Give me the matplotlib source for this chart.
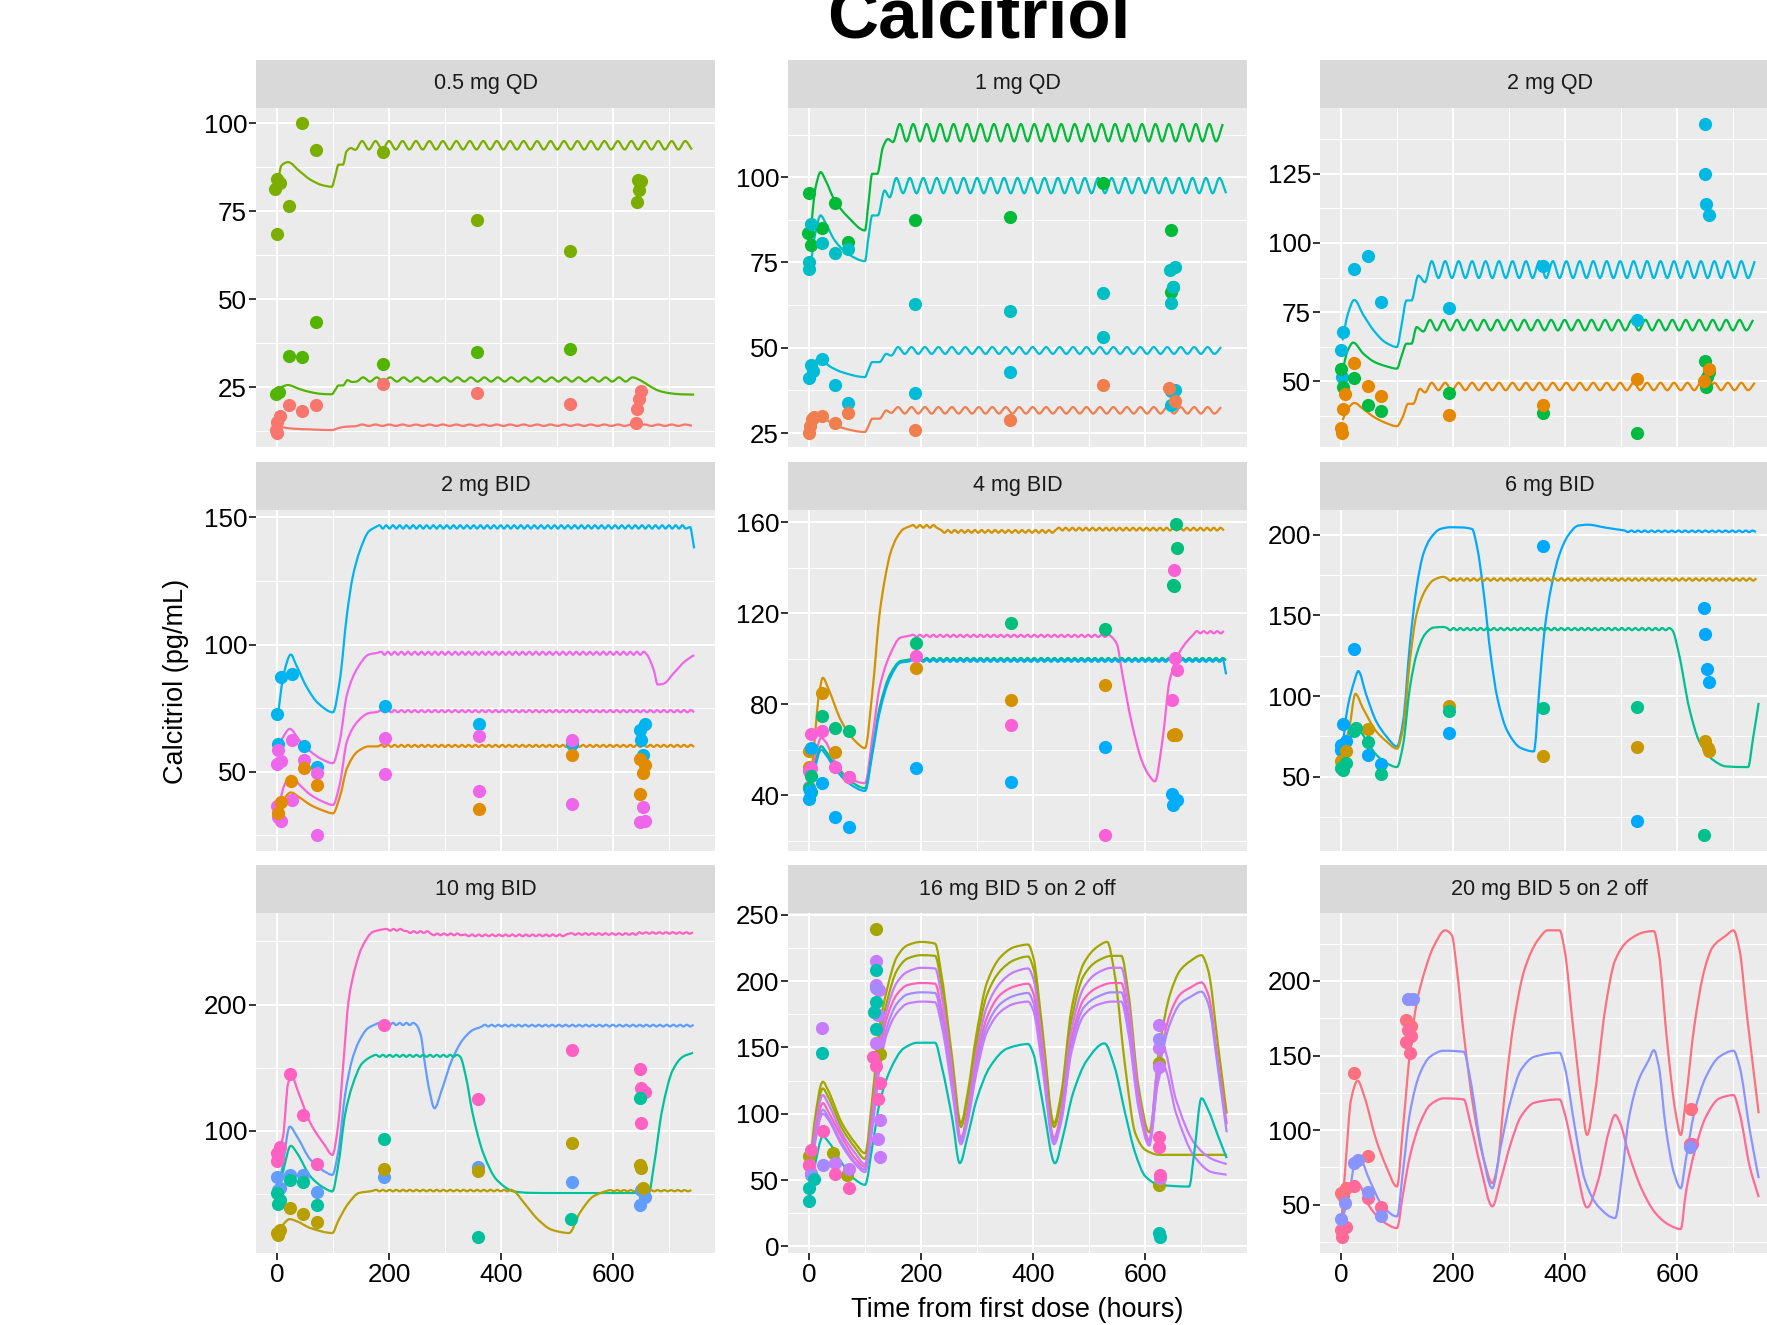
import numpy as np
import matplotlib.pyplot as plt
from matplotlib.path import Path
from matplotlib.patches import PathPatch

plt.rcParams['font.family'] = ['Liberation Sans', 'DejaVu Sans']


def ss(t0, t1, hi, lo, step):
    # steady-state dosing ripple: alternating peak / trough
    t = np.arange(t0, t1 + 0.01, step)
    return list(t), [hi if i % 2 == 0 else lo for i in range(len(t))]


def trace(*parts):
    ts, vs = [], []
    for t, v in parts:
        ts += list(t)
        vs += list(v)
    return ts, vs


# ---------------- 0.5 mg QD ----------------
qd05_olive = trace(([3, 8, 20, 40, 60, 80, 98, 104, 110, 118, 124, 132, 140],
                    [84.5, 88, 89, 86.5, 84, 82.5, 82, 85, 88.3, 88.3, 92, 93, 92.5]),
                   ss(152, 744, 95.0, 92.6, 12))
qd05_green = trace(([3, 8, 20, 40, 60, 80, 98, 104, 110, 118, 126, 134, 142],
                    [23.1, 25.0, 25.6, 24.5, 23.6, 23.1, 23.0, 24.2, 25.5, 25.5, 27.0, 26.5, 26.6]),
                   ss(154, 634, 27.8, 26.6, 12),
                   ([650, 665, 681, 700, 720, 744], [26.8, 25.3, 24.0, 23.3, 23.0, 22.9]))
qd05_red = trace(([3, 10, 30, 60, 98, 110, 125, 140],
                  [13.8, 13.6, 13.2, 13.0, 12.8, 13.4, 13.8, 13.9]),
                 ss(152, 744, 14.4, 14.0, 12))
qd05_olive_pts = ([-3, 0, 5, 0, 21, 45, 69, 190, 356, 523, 644, 650, 645, 643],
                  [81.5, 84.2, 83.0, 68.5, 76.4, 100, 92.4, 92.0, 72.5, 63.7, 83.9, 83.7, 81.1, 77.7])
qd05_green_pts = ([-2, 3, 21, 45, 69, 189, 356, 523],
                  [23.0, 23.5, 33.8, 33.5, 43.5, 31.6, 34.9, 35.9])
qd05_red_pts = ([-2, 0, 1, 5, 21, 45, 69, 189, 356, 523, 641, 643, 646, 649],
                [12.7, 12.0, 15.1, 16.8, 20.0, 18.2, 20.0, 26.0, 23.4, 20.1, 14.8, 18.9, 21.7, 23.9])

# ---------------- 1 mg QD ----------------
qd1_green = trace(([3, 12, 21, 30, 46, 70, 100, 106, 113, 122, 132, 141, 150],
                   [83.9, 97, 101.5, 99, 93.2, 88.3, 84.4, 92, 101, 101, 108.8, 111.2, 110.3]),
                  ss(162, 744, 115.6, 110.5, 12))
qd1_teal = trace(([3, 12, 21, 30, 46, 70, 100, 106, 113, 123, 135, 144],
                  [74.1, 84, 88.8, 86.5, 81.5, 77.5, 75.4, 82, 88.8, 88.8, 96.1, 94.1]),
                 ss(156, 744, 99.8, 95.3, 12))
qd1_cyan = trace(([3, 10, 22, 35, 60, 100, 106, 113, 126, 138, 147],
                  [44.3, 46, 46.8, 44.8, 42.8, 41.4, 43.5, 45.8, 45.8, 48.2, 47.7]),
                 ss(159, 744, 50.2, 48.2, 12))
qd1_orange = trace(([3, 10, 21, 35, 60, 100, 106, 113, 126, 138, 147],
                    [28.7, 29.5, 30.2, 28.5, 26.5, 25.3, 27, 29.2, 29.2, 31.6, 30.9]),
                   ss(159, 744, 32.6, 30.7, 12))
qd1_green_pts = ([0, -2, 3, 23, 47, 70, 190, 358, 525, 645, 649, 646],
                 [95.3, 83.6, 80.0, 85.2, 92.4, 81.0, 87.5, 88.3, 98.2, 84.4, 67.8, 66.3])
qd1_teal_pts = ([4, 0, 1, 24, 47, 70, 190, 358, 525, 525, 644, 653, 649, 646],
                [86.3, 75.1, 73.1, 80.7, 77.8, 79.0, 62.7, 60.7, 66.0, 53.3, 72.7, 73.8, 67.8, 63.2])
qd1_cyan_pts = ([3, 0, 7, 23, 47, 70, 190, 358, 646, 653, 646],
                [44.8, 41.2, 43.2, 46.8, 39.0, 33.8, 36.7, 42.9, 37.3, 37.7, 33.1])
qd1_orange_pts = ([0, 2, 5, 9, 24, 47, 70, 190, 358, 525, 643, 653],
                  [25.0, 27.2, 29.2, 29.7, 29.9, 28.0, 30.9, 25.8, 28.9, 39.2, 38.3, 34.4])

# ---------------- 2 mg QD ----------------
qd2_blue = trace(([3, 12, 24, 40, 60, 80, 100, 108, 117, 126, 138, 150],
                  [64.8, 74, 79.4, 74, 68, 64, 62.4, 70, 79.2, 79.2, 88.2, 85.8]),
                 ss(162, 744, 93.4, 87.3, 12))
qd2_green = trace(([3, 12, 22, 40, 60, 80, 100, 108, 117, 126, 135, 147],
                   [54, 61, 64.0, 60, 57, 55.5, 54.6, 59, 63.6, 63.6, 69.6, 68.0]),
                  ss(159, 744, 72.2, 68.4, 12))
qd2_orange = trace(([3, 12, 24, 40, 60, 80, 100, 110, 120, 129, 141, 150],
                    [36, 40, 42.2, 40, 37, 35, 33.8, 37, 41.9, 41.9, 47.3, 46.0]),
                   ss(162, 744, 49.5, 46.8, 12))
qd2_blue_pts = ([649, 650, 651, 656, 360, 528, 192, 71, 48, 24, 3, 0, 2],
                [142.9, 125.0, 113.9, 110.1, 91.8, 72.0, 76.6, 78.8, 95.2, 90.6, 68.0, 61.5, 51.6])
qd2_green_pts = ([0, 3, 24, 48, 71, 192, 360, 528, 649, 652, 656, 651],
                 [54.3, 47.9, 51.2, 41.6, 39.2, 45.9, 38.4, 31.5, 57.3, 51.6, 53.4, 47.9])
qd2_orange_pts = ([0, 2, 3, 8, 24, 48, 71, 192, 360, 528, 656, 648],
                  [33.2, 31.5, 40.2, 45.6, 56.7, 48.3, 44.6, 38.0, 41.6, 50.7, 54.3, 50.0])

# ---------------- 2 mg BID ----------------
bid2_cyan = trace(([2, 12, 25, 34, 54, 73, 100, 112, 125, 135, 148, 164, 177],
                   [72.5, 88.2, 96.1, 92.2, 83.0, 77.1, 73.4, 85.6, 111.9, 126.3, 136.9, 144.5, 146.3]),
                  ss(183, 731, 146.9, 145.6, 6),
                  ([737, 741, 744], [146.2, 142, 137.8]))
bid2_mag = trace(([2, 12, 23, 40, 60, 80, 100, 112, 125, 144, 164, 180],
                  [59, 64, 66.9, 62.5, 58, 55, 53.4, 62, 80.4, 90.9, 96.1, 96.8]),
                 ss(186, 660, 97.2, 96.0, 6),
                 ([672, 679, 689, 708, 728, 744], [90, 84.3, 84.6, 88.9, 93.5, 95.9]))
bid2_mag2 = trace(([2, 12, 25, 40, 60, 80, 100, 112, 125, 144, 164, 180],
                   [33.7, 44, 48.4, 45, 41, 38.5, 37.0, 45, 62.0, 69.8, 73.1, 73.6]),
                  ss(186, 744, 74.3, 73.4, 6))
bid2_orange = trace(([2, 12, 25, 40, 60, 80, 100, 112, 125, 144, 164, 180],
                     [33.0, 39, 41.9, 40, 37, 35, 33.7, 40, 51.4, 58.0, 60.0, 60.0]),
                    ss(186, 744, 60.6, 59.8, 6))
bid2_cyan_pts = ([0, 8, 27, 2, 49, 72, 193, 360, 527, 648, 656, 650, 652],
                 [72.6, 87.2, 88.6, 60.9, 60.0, 52.1, 75.8, 68.8, 61.0, 66.6, 68.8, 62.6, 56.7])
bid2_mag_pts = ([0, 2, 0, 7, 27, 49, 72, 193, 193, 360, 360, 527, 527, 652, 648, 656, 27, 72, 2, 8],
                [36.7, 58.7, 53.2, 54.3, 62.6, 54.7, 49.7, 63.3, 49.2, 64.2, 42.5, 62.6, 37.3, 36.1,
                 30.2, 30.8, 39.0, 25.2, 32.4, 30.8])
bid2_orange_pts = ([2, 7, 25, 49, 72, 360, 527, 648, 656, 652, 648],
                   [33.7, 38.3, 46.5, 51.7, 44.9, 35.4, 56.7, 55.1, 52.5, 49.5, 41.2])

# ---------------- 4 mg BID ----------------
bid4_gold = trace(([2, 9, 18, 25, 34, 58, 83, 100, 114, 126, 135, 145, 157, 169, 180],
                   [43.2, 60.8, 84.3, 91.7, 87.3, 72.6, 63.8, 60.8, 87.3, 119.6, 134.3, 146.1, 153.4, 157.1, 158.2]),
                  ss(186, 230, 158.8, 157.6, 6), ss(236, 440, 156.6, 155.4, 6),
                  ss(446, 744, 157.6, 156.4, 6))
bid4_pink = trace(([2, 10, 22, 30, 46, 71, 100, 114, 126, 145, 163, 180],
                   [43.2, 55, 65.3, 63.5, 55.0, 47.6, 45.4, 66.7, 87.3, 102, 109.3, 110.2]),
                  ss(186, 540, 110.6, 109.6, 6),
                  ([550, 557, 575, 594, 606, 617, 631, 643, 662, 686],
                   [106, 96.1, 72.6, 55.0, 49, 46.2, 65.3, 90.2, 103.4, 110.8]),
                  ss(692, 744, 112.2, 111.2, 6))
bid4_green = trace(([2, 10, 22, 30, 46, 71, 100, 114, 126, 145, 163, 180],
                    [41.8, 52, 61.6, 59.5, 53.5, 46.9, 43.2, 60.8, 78.5, 93.2, 99.0, 99.8]),
                   ss(186, 744, 100.4, 99.4, 6))
bid4_blue = trace(([2, 10, 22, 30, 46, 71, 100, 114, 126, 145, 163, 180],
                   [40.4, 51, 60.1, 58, 52.0, 45.4, 42.0, 59.4, 76.3, 91.7, 98.3, 99.0]),
                  ss(186, 738, 99.7, 98.7, 6),
                  ([744], [93.2]))
bid4_green_pts = ([654, 657, 649, 651, 360, 528, 191, 23, 47, 71, 3, 0, 3],
                  [159.3, 148.7, 132.4, 131.8, 115.9, 113.3, 106.8, 74.8, 69.7, 68.5, 48.4, 43.2, 41.4])
bid4_pink_pts = ([651, 652, 657, 648, 360, 528, 191, 4, 23, 47, 71, 0, 3, 0],
                 [139.0, 100.2, 95.1, 82.1, 70.8, 22.6, 101.2, 67.2, 68.2, 52.5, 47.9, 50.6, 52.0, 43.6])
bid4_gold_pts = ([23, 47, 71, 0, 0, 191, 360, 528, 649, 655, 652],
                 [84.8, 59.1, 47.9, 59.7, 52.5, 95.8, 82.1, 88.5, 66.7, 66.4, 67.0])
bid4_blue_pts = ([3, 0, 2, 23, 47, 71, 191, 360, 528, 648, 657, 649],
                 [60.8, 38.5, 41.8, 45.4, 30.7, 26.0, 52.0, 45.9, 61.1, 40.6, 38.1, 35.6])

# ---------------- 6 mg BID ----------------
bid6_blue = trace(([2, 12, 24, 31, 45, 63, 81, 100, 111, 123, 135, 147, 159, 177, 195, 215, 234, 243,
                    255, 267, 279, 297, 321, 344, 354, 363, 375, 390, 405, 423, 441, 470, 500],
                   [65.7, 92.7, 109.2, 115.5, 101, 84.4, 75.1, 68.8, 84.4, 132.0, 167.3, 188.0, 197.3,
                    203.5, 204.6, 204.5, 203.5, 192.1, 163.1, 125.8, 98.9, 78.2, 67.8, 65.7, 105.1,
                    140.3, 167.3, 188.0, 199.4, 205.6, 206.2, 204.5, 202.9]),
                  ss(506, 744, 202.6, 201.6, 6))
bid6_gold = trace(([2, 15, 26, 39, 63, 81, 100, 111, 123, 135, 150, 165, 183],
                   [63.7, 80.2, 101.4, 92.7, 78.2, 72.0, 67.4, 80.2, 121.7, 150.7, 165.2, 171.8, 173.9]),
                  ss(189, 744, 173.0, 171.5, 6))
bid6_green = trace(([2, 15, 26, 39, 63, 81, 100, 111, 123, 135, 150, 165, 183],
                    [56.4, 72.0, 82.3, 76.1, 63.7, 58.5, 56.0, 69.9, 105.1, 125.8, 138.3, 142.4, 142.8]),
                   ss(189, 591, 142.2, 140.8, 6),
                   ([603, 621, 639, 663, 687, 726, 735, 745],
                    [125.8, 92.7, 72.0, 60.6, 56.4, 56.0, 74.0, 95.8]))
bid6_blue_pts = ([24, 3, 0, 0, 9, 48, 71, 192, 360, 528, 648, 650, 652, 656],
                 [128.9, 82.7, 69.9, 66.8, 72.0, 63.2, 58.1, 76.9, 192.7, 22.8, 154.8, 138.7, 116.9, 108.8])
bid6_gold_pts = ([0, 10, 48, 192, 360, 528, 650, 654, 657],
                 [59.5, 65.7, 79.8, 93.7, 62.6, 68.4, 72.4, 67.8, 65.7])
bid6_green_pts = ([0, 3, 9, 24, 27, 48, 71, 192, 360, 528, 648],
                  [55.4, 54.3, 58.5, 78.6, 80.2, 71.3, 51.6, 90.6, 92.3, 93.1, 13.9])

# ---------------- 10 mg BID ----------------
bid10_pink = trace(([2, 11, 20, 26, 39, 60, 85, 99, 109, 119, 128, 140, 152, 171, 190],
                    [82.4, 95.5, 137.6, 143.4, 129.7, 106.0, 88.9, 81.0, 103.4, 156.0, 203.4, 229.7,
                     245.5, 257.4, 259.5]),
                   ss(196, 226, 259.8, 258.4, 6), ss(232, 268, 258.0, 256.6, 6),
                   ss(274, 330, 256.2, 254.8, 6), ss(336, 520, 255.4, 254.0, 6),
                   ss(526, 640, 256.4, 255.1, 6), ss(646, 744, 257.2, 256.0, 6))
bid10_blue = trace(([2, 11, 23, 36, 60, 85, 99, 109, 122, 134, 146, 162, 177],
                    [50.8, 74.5, 103.4, 95.5, 77.1, 67.9, 65.2, 82.4, 129.7, 156.0, 170.5, 181.1, 184.5]),
                   ss(183, 249, 185.5, 183.7, 6),
                   ([257, 263, 272, 281, 294, 312, 331, 349, 365],
                    [175, 156.0, 132, 117.9, 132.4, 156.0, 171.8, 179.7, 182.5]),
                   ss(371, 744, 184.0, 182.6, 6))
bid10_green = trace(([2, 11, 25, 36, 60, 85, 99, 109, 122, 134, 152, 171],
                     [50.8, 67.9, 88.2, 82.4, 63.9, 54.7, 52.1, 71.8, 113.9, 135.0, 153.4, 159.3]),
                    ss(177, 327, 160.2, 158.6, 6),
                    ([337, 349, 368, 392, 423, 450, 503, 663, 672, 687, 706, 724, 742],
                     [142.9, 113.9, 82.4, 61.3, 52.1, 51.0, 50.8, 50.8, 71.8, 116.6, 148.2, 158.7, 161.8]))
bid10_olive = trace(([2, 11, 23, 36, 60, 99, 109, 128, 146, 171],
                     [19.2, 25.8, 30.2, 28.4, 23.1, 19.2, 28.4, 42.9, 50.8, 52.6]),
                    ss(177, 423, 53.4, 52.2, 6),
                    ([441, 466, 490, 521, 540, 564, 589], [42.9, 29.7, 21.8, 19.2, 35.0, 48.1, 52.6]),
                    ss(595, 744, 53.2, 52.2, 6))
bid10_pink_pts = ([23, 47, 71, 2, 5, 0, 0, 191, 359, 527, 647, 650, 656, 649],
                  [144.7, 112.6, 73.7, 78.4, 87.6, 82.4, 75.8, 183.7, 125.0, 164.0, 148.7, 134.2, 131.0, 106.6])
bid10_blue_pts = ([0, 2, 6, 23, 47, 71, 191, 359, 527, 650, 656, 647],
                  [63.4, 53.4, 54.7, 65.2, 65.2, 51.6, 63.4, 71.8, 59.2, 53.4, 47.6, 41.6])
bid10_green_pts = ([0, 2, 5, 23, 47, 71, 191, 359, 525, 647],
                   [50.8, 42.3, 45.5, 61.3, 59.2, 41.0, 93.7, 15.8, 30.2, 126.3])
bid10_olive_pts = ([0, 5, 2, 23, 47, 71, 191, 359, 527, 647, 650, 653],
                   [19.2, 21.8, 17.4, 38.9, 34.4, 27.9, 70.0, 68.4, 90.8, 73.1, 70.5, 55.2])

# ---------------- 16 mg BID 5 on 2 off ----------------
t16 = [2, 9, 25, 34, 59, 83, 100, 114, 126, 139, 157, 176, 200, 225, 237, 256, 271, 283, 299, 317,
       342, 367, 391, 400, 416, 437, 450, 468, 490, 514, 540, 557, 570, 588, 607, 625, 644, 662, 680,
       700, 712, 730, 745]
b16_olive2_v = [55, 86, 119, 113, 89, 74, 66, 108, 156, 184, 208, 217, 219.5, 219, 196, 136, 90, 110,
                153, 189, 208, 216, 218.5, 210, 160, 90, 110, 170, 204, 215, 219, 219, 190, 120, 86,
                150, 190, 208, 215, 219.5, 208, 150, 100]
b16_pink_v = [52, 78, 108, 102, 82, 66, 60, 100, 145, 172, 190, 197, 198.5, 198, 178, 125, 82, 100,
              140, 172, 190, 196, 198, 191, 146, 82, 100, 155, 186, 195, 198.5, 198.5, 172, 110, 80,
              140, 175, 190, 195, 199, 190, 138, 92]
b16_lav_v = [50, 75, 103, 98, 78, 63, 58, 95, 138, 165, 183, 190, 191.5, 191, 172, 120, 80, 96, 135,
             166, 183, 189, 191, 184, 140, 80, 96, 150, 180, 188, 191.5, 191.5, 166, 106, 78, 135, 168,
             183, 188, 192, 183, 132, 86]
b16_purple1_v = [54, 82, 114, 108, 85, 70, 62, 104, 150, 178, 199, 207, 210, 209.5, 188, 130, 78, 102,
                 146, 180, 199, 207, 209.5, 202, 153, 78, 102, 162, 195, 206, 210, 210, 182, 114, 80]
b16_purple2_v = [49, 73, 100, 96, 76, 62, 56, 92, 134, 160, 176, 183, 184.5, 184, 166, 116, 77, 94,
                 131, 161, 177, 183, 184.5, 178, 136, 77, 94, 146, 174, 182, 184.5, 184.5, 160, 104, 76]
b16_olive1 = ([2, 9, 25, 34, 59, 83, 100, 114, 126, 139, 157, 176, 200, 225, 237, 256, 271, 283, 299,
               317, 342, 367, 391, 400, 416, 437, 450, 468, 490, 514, 532, 545, 564, 582, 600, 625, 687, 745],
              [57.7, 90.3, 124.1, 117.9, 92.8, 77.7, 70.2, 115.4, 165.5, 193.1, 218.2, 227.0, 229.5,
               228.2, 203.1, 140.4, 92.8, 115.4, 160.5, 198.1, 218.2, 225.7, 227.5, 218.2, 165.5, 92.8,
               115.4, 178.1, 213.2, 225.7, 229.5, 205.7, 135.4, 85.3, 72.7, 69.0, 69.0, 69.0])
b16_teal = ([2, 9, 25, 37, 59, 83, 100, 114, 126, 145, 169, 194, 225, 237, 256, 269, 283, 299, 323,
             354, 391, 400, 416, 439, 453, 471, 496, 527, 545, 564, 582, 600, 625, 678, 687, 700, 712, 730, 745],
            [43.9, 57.7, 82.8, 77.7, 62.7, 50.2, 46.4, 77.7, 107.8, 132.9, 149.2, 153.5, 153.5, 135.4,
             95.3, 62.7, 82.8, 110.4, 135.4, 149.2, 152.5, 145.5, 110.4, 62.7, 82.8, 115.4, 140.4, 153.0,
             135.4, 100.3, 70.2, 52.7, 46.4, 45.1, 70.2, 111.6, 102.8, 82.8, 66.5])
b16_olive2 = (t16, b16_olive2_v)
b16_pink = (t16, b16_pink_v)
b16_lav = (t16, b16_lav_v)
b16_purple1 = trace((t16[:35], b16_purple1_v), ([620, 630, 655, 687, 718, 745], [130, 152, 110, 78, 66, 62]))
b16_purple2 = trace((t16[:35], b16_purple2_v), ([620, 632, 655, 687, 718, 745], [118, 136, 100, 68, 56, 54]))
b16_olive_pts = ([120, 0, 68, 43, 625, 625, 126], [239.5, 68.2, 53.9, 70.2, 138.4, 46.4, 144.7])
b16_purple_pts = ([23, 120, 120, 125, 123, 119, 126, 625, 625, 625, 626, 126, 123, 71, 46, 0, 4],
                  [164.8, 214.9, 196.9, 193.1, 174.3, 153.0, 95.3, 166.8, 149.2, 135.4, 51.4, 67.7,
                   80.8, 58.2, 62.7, 61.4, 55.2])
b16_lav_pts = ([25, 3, 625, 120], [61.4, 53.9, 156.0, 194.4])
b16_pink_pts = ([25, 3, 0, 47, 71, 115, 126, 119, 124, 625, 625, 626],
                [87.3, 72.7, 61.4, 54.4, 43.9, 143.0, 122.9, 135.9, 110.9, 82.8, 74.7, 53.9])
b16_teal_pts = ([23, 0, 1, 9, 120, 119, 116, 120, 625, 626],
                [145.5, 43.9, 33.9, 50.7, 208.2, 184.3, 176.8, 163.5, 10.0, 6.8])

# ---------------- 20 mg BID 5 on 2 off ----------------
b20_red = ([2, 9, 18, 30, 42, 63, 81, 100, 111, 123, 135, 150, 165, 186, 198, 207, 219, 237, 255, 270,
            279, 291, 309, 327, 351, 369, 390, 399, 414, 429, 439, 453, 471, 489, 513, 543, 558, 567,
            582, 597, 606, 615, 630, 648, 663, 687, 700, 711, 723, 735, 745],
           [44.4, 80.1, 120.2, 133.1, 122.4, 93.5, 75.6, 62.2, 102.4, 151.4, 184.8, 207.1, 222.7, 233.9,
            230.5, 207.1, 164.8, 113.5, 80.1, 64.5, 75.6, 120.2, 173.7, 207.1, 227.2, 233.9, 233.9,
            220.5, 169.2, 120.2, 96.8, 124.7, 180.4, 213.8, 227.2, 232.8, 233.4, 218.3, 158.1, 111.3,
            96.8, 120.2, 169.2, 207.1, 222.7, 230.5, 233.9, 220.5, 180.4, 142.5, 111.3])
b20_pink = ([2, 12, 24, 33, 51, 75, 100, 111, 123, 141, 159, 183, 219, 231, 249, 270, 285, 303, 321,
             345, 390, 399, 417, 439, 459, 477, 489, 498, 513, 537, 561, 585, 606, 615, 630, 651, 675,
             700, 711, 729, 745],
            [35.5, 57.8, 65.6, 63.4, 48.9, 38.8, 34.4, 57.8, 82.3, 104.6, 116.9, 121.3, 120.6, 104.6,
             75.6, 48.9, 66.7, 91.2, 109.1, 118.4, 120.6, 111.3, 80.1, 48.2, 66.7, 97.9, 110.2, 104.6,
             84.6, 60.0, 44.4, 36.6, 33.7, 57.8, 84.6, 109.1, 121.3, 123.5, 111.3, 75.6, 55.1])
b20_blue = ([2, 15, 27, 33, 51, 75, 100, 111, 123, 141, 159, 183, 219, 231, 249, 270, 285, 303, 321,
             345, 390, 399, 417, 435, 459, 489, 501, 513, 531, 549, 558, 567, 579, 594, 606, 615, 630,
             651, 675, 700, 711, 729, 745],
            [40, 57.8, 81.2, 81.2, 66.7, 48.9, 42.2, 73.4, 111.3, 138.0, 149.2, 153.2, 152.5, 133.6,
             91.2, 61.1, 89.0, 120.2, 140.3, 149.2, 151.9, 142.5, 102.4, 66.7, 48.9, 41.1, 68.9, 106.8,
             133.6, 147.0, 153.6, 142.5, 102.4, 71.2, 61.1, 80.1, 111.3, 135.8, 149.2, 153.2, 142.5,
             100.1, 67.8])
b20_red_pts = ([24, 48, 0, 3, 9, 117, 125, 624, 623], [138.0, 82.8, 58.2, 55.6, 61.1, 174.1, 169.9, 114.2, 90.8])
b20_pink_pts = ([24, 48, 71, 0, 2, 9, 116, 125, 123, 119, 626],
                [62.9, 54.4, 48.4, 33.3, 28.1, 34.9, 159.2, 163.0, 151.9, 167.0, 90.8])
b20_blue_pts = ([0, 8, 24, 30, 48, 71, 120, 129, 623], [40.4, 51.1, 77.9, 80.1, 58.9, 42.2, 188.2, 188.2, 89.0])

panels = [
    ("0.5 mg QD", (8.0, 104.4), [25, 50, 75, 100],
     [("#7CAE00", qd05_olive, qd05_olive_pts), ("#53B400", qd05_green, qd05_green_pts),
      ("#F8766D", qd05_red, qd05_red_pts)]),
    ("1 mg QD", (20.9, 120.3), [25, 50, 75, 100],
     [("#00BA38", qd1_green, qd1_green_pts), ("#00BFC4", qd1_teal, qd1_teal_pts),
      ("#00BCD8", qd1_cyan, qd1_cyan_pts), ("#F07E4F", qd1_orange, qd1_orange_pts)]),
    ("2 mg QD", (26.3, 148.7), [50, 75, 100, 125],
     [("#00B9E3", qd2_blue, qd2_blue_pts), ("#00BA42", qd2_green, qd2_green_pts),
      ("#E58700", qd2_orange, qd2_orange_pts)]),
    ("2 mg BID", (18.9, 152.9), [50, 100, 150],
     [("#00B4EF", bid2_cyan, bid2_cyan_pts), ("#EE67EB", bid2_mag, bid2_mag_pts),
      ("#F564E3", bid2_mag2, None), ("#E08B00", bid2_orange, bid2_orange_pts)]),
    ("4 mg BID", (15.6, 165.4), [40, 80, 120, 160],
     [("#D39200", bid4_gold, bid4_gold_pts), ("#FB61D7", bid4_pink, bid4_pink_pts),
      ("#00BF7D", bid4_green, bid4_green_pts), ("#00ADFA", bid4_blue, bid4_blue_pts)]),
    ("6 mg BID", (4.0, 215.3), [50, 100, 150, 200],
     [("#00A9FF", bid6_blue, bid6_blue_pts), ("#C99800", bid6_gold, bid6_gold_pts),
      ("#00C08B", bid6_green, bid6_green_pts)]),
    ("10 mg BID", (3.4, 272.4), [100, 200],
     [("#FF61C3", bid10_pink, bid10_pink_pts), ("#619CFF", bid10_blue, bid10_blue_pts),
      ("#00C19A", bid10_green, bid10_green_pts), ("#B79F00", bid10_olive, bid10_olive_pts)]),
    ("16 mg BID 5 on 2 off", (-5.0, 251.3), [0, 50, 100, 150, 200, 250],
     [("#A3A500", b16_olive1, b16_olive_pts), ("#9DA700", b16_olive2, None),
      ("#C77CFF", b16_purple1, b16_purple_pts), ("#FF62BC", b16_pink, b16_pink_pts),
      ("#A58AFF", b16_lav, b16_lav_pts), ("#C77CFF", b16_purple2, None),
      ("#00BFAF", b16_teal, b16_teal_pts)]),
    ("20 mg BID 5 on 2 off", (17.7, 245.5), [50, 100, 150, 200],
     [("#FC717F", b20_red, b20_red_pts), ("#FF6A98", b20_pink, b20_pink_pts),
      ("#8B93FF", b20_blue, b20_blue_pts)]),
]


def smooth_path(x, y):
    # monotone cubic (Fritsch-Carlson) tangents, drawn as Bezier segments through the read knots
    x = np.asarray(x, float)
    y = np.asarray(y, float)
    h = np.diff(x)
    d = np.diff(y) / h
    m = np.zeros_like(y)
    m[0], m[-1] = d[0], d[-1]
    for k in range(1, len(y) - 1):
        if d[k - 1] * d[k] > 0:
            w1, w2 = 2 * h[k] + h[k - 1], h[k] + 2 * h[k - 1]
            m[k] = (w1 + w2) / (w1 / d[k - 1] + w2 / d[k])
    verts, codes = [(x[0], y[0])], [Path.MOVETO]
    for k in range(len(x) - 1):
        verts += [(x[k] + h[k] / 3, y[k] + m[k] * h[k] / 3),
                  (x[k + 1] - h[k] / 3, y[k + 1] - m[k + 1] * h[k] / 3),
                  (x[k + 1], y[k + 1])]
        codes += [Path.CURVE4] * 3
    return Path(verts, codes)


# ---------------- layout (pixel geometry of the reference) ----------------
W, H = 1767, 1325
fig = plt.figure(figsize=(W / 100, H / 100), dpi=100)
col_x = [256, 788, 1320]
pw = 459
strip_top = [60, 462, 865]
sh = 48
panel_bot = [447, 851, 1253]


def rect(x, y0, w, h):
    return [x / W, 1 - (y0 + h) / H, w / W, h / H]


for i, (title, ylim, yticks, series) in enumerate(panels):
    r, c = divmod(i, 3)
    x0 = col_x[c]
    top = strip_top[r] + sh
    ax = fig.add_axes(rect(x0, top, pw, panel_bot[r] - top))
    sax = fig.add_axes(rect(x0, strip_top[r], pw, sh))
    sax.set_facecolor('#D9D9D9')
    sax.set_xticks([])
    sax.set_yticks([])
    for s in sax.spines.values():
        s.set_visible(False)
    sax.text(0.5, 0.5, title, ha='center', va='center', fontsize=15.5, color='#1A1A1A',
             transform=sax.transAxes)

    ax.set_facecolor('#EBEBEB')
    for s in ax.spines.values():
        s.set_visible(False)
    ax.set_xlim(-37.2, 781.2)
    ax.set_ylim(*ylim)
    ax.set_xticks([0, 200, 400, 600])
    ax.set_xticks([100, 300, 500, 700], minor=True)
    step = yticks[1] - yticks[0]
    ax.set_yticks(yticks)
    ax.set_yticks([m for m in np.arange(yticks[0] - step / 2, ylim[1], step) if ylim[0] < m < ylim[1]],
                  minor=True)
    ax.grid(which='major', color='white', lw=1.5)
    ax.grid(which='minor', color='white', lw=0.75)
    ax.set_axisbelow(True)
    ax.tick_params(which='minor', length=0)
    ax.tick_params(axis='y', which='major', length=4.8, width=1.4, color='#333333',
                   labelsize=18.7, labelcolor='black', pad=1.6)
    if r == 2:
        ax.tick_params(axis='x', which='major', length=4.8, width=1.4, color='#333333',
                       labelsize=18.7, labelcolor='black', pad=2.2)
    else:
        ax.tick_params(axis='x', which='major', length=0, labelbottom=False)

    for color, line, pts in series:
        ax.add_patch(PathPatch(smooth_path(*line), fill=False, edgecolor=color, lw=1.6,
                               joinstyle='round', zorder=2))
    for color, line, pts in series:
        if pts is not None:
            ax.scatter(pts[0], pts[1], s=90, color=color, linewidths=0, zorder=3)

fig.text(979 / W, 1 - 37 / H, "Calcitriol", ha='center', va='baseline', fontsize=51,
         fontweight='bold')
fig.text(1017 / W, 1 - 1317 / H, "Time from first dose (hours)", ha='center', va='baseline',
         fontsize=19.5)
fig.text(176 / W, 1 - 681 / H, "Calcitriol (pg/mL)", ha='center', va='center', rotation=90,
         fontsize=19.5)

fig.savefig("out.png", dpi=100)
